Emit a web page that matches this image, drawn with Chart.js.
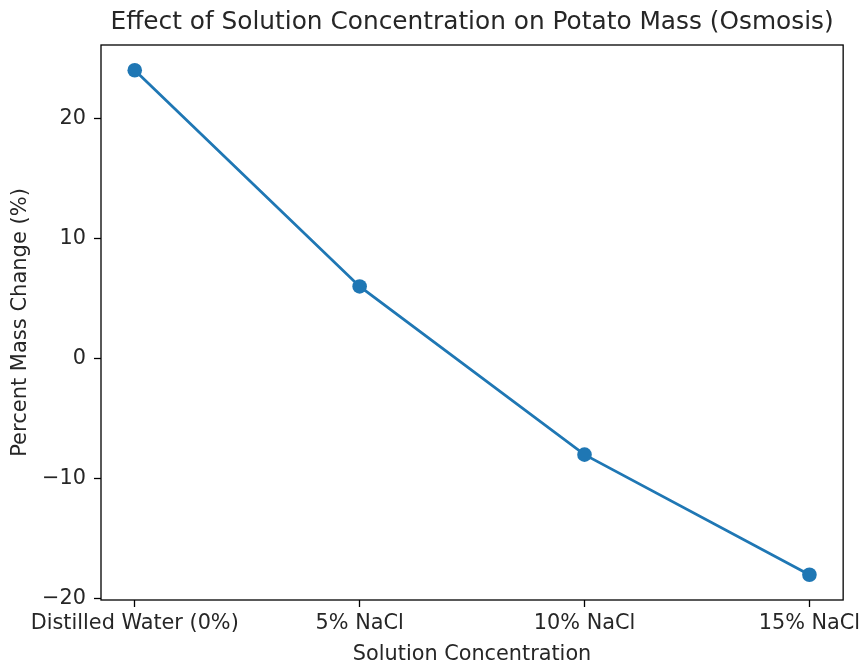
<!DOCTYPE html>
<html>
<head>
<meta charset="utf-8">
<script src="https://cdn.jsdelivr.net/npm/chart.js@4"></script>
<style>
  html, body { margin: 0; padding: 0; background: #fff; }
  #wrap { width: 865px; height: 667px; }
</style>
</head>
<body>
<div id="wrap"><canvas id="osmosisChart" width="865" height="667"></canvas></div>
<script>
// Data
const categories = ["Distilled Water (0%)", "5% NaCl", "10% NaCl", "15% NaCl"];
const massChange = [24, 6, -8, -18];
const yTicks = [-20, -10, 0, 10, 20];

const LINE_BLUE = "#1f77b4";
const FONT = "'DejaVu Sans', sans-serif";
const TEXT = "#262626";

Chart.defaults.font.family = FONT;
Chart.defaults.color = TEXT;

// Title centred over the plot area, plus a full box frame round it
const framePlugin = {
  id: "frame",
  afterDraw(chart) {
    const { ctx, chartArea: a } = chart;
    ctx.save();
    ctx.strokeStyle = "#000";
    ctx.lineWidth = 1.3;
    ctx.strokeRect(a.left, a.top, a.right - a.left, a.bottom - a.top);
    ctx.fillStyle = TEXT;
    ctx.font = "24.8px " + FONT;
    ctx.textAlign = "center";
    ctx.textBaseline = "alphabetic";
    ctx.fillText("Effect of Solution Concentration on Potato Mass (Osmosis)", (a.left + a.right) / 2, 29);
    ctx.restore();
  }
};

const ctx = document.getElementById("osmosisChart");
new Chart(ctx, {
  type: "line",
  data: {
    datasets: [{
      label: "Percent Mass Change",
      data: massChange.map((v, i) => ({ x: i, y: v })),
      borderColor: LINE_BLUE,
      backgroundColor: LINE_BLUE,
      borderWidth: 2.8,
      pointRadius: 7.3,
      pointHoverRadius: 7.3,
      pointBackgroundColor: LINE_BLUE,
      pointBorderWidth: 0,
      tension: 0,
      fill: false,
    }],
  },
  options: {
    responsive: false,
    animation: false,
    layout: { padding: { top: 45, right: 19, left: 0, bottom: 0 } },
    plugins: {
      legend: { display: false },
      title: { display: false },
      tooltip: { enabled: false },
    },
    scales: {
      x: {
        type: "linear",
        min: -0.15,
        max: 3.15,
        afterBuildTicks: (scale) => { scale.ticks = categories.map((c, i) => ({ value: i })); },
        afterFit: (scale) => { scale.height = 67; },
        ticks: {
          callback: (v) => categories[v] ?? "",
          font: { size: 20.8 },
          color: TEXT,
          padding: 4,
          maxRotation: 0,
          autoSkip: false,
        },
        grid: { display: true, drawOnChartArea: false, tickLength: 7, color: "#000", tickWidth: 1.3 },
        border: { display: false },
        title: {
          display: true,
          text: "Solution Concentration",
          font: { size: 20.8 },
          color: TEXT,
          padding: { top: 0, bottom: 0 },
        },
      },
      y: {
        min: -20.1,
        max: 26.1,
        afterBuildTicks: (scale) => { scale.ticks = yTicks.map(v => ({ value: v })); },
        afterFit: (scale) => { scale.width = 101; },
        ticks: {
          callback: (v) => String(v).replace("-", "\u2212"),
          font: { size: 20.8 },
          color: TEXT,
          padding: 8,
        },
        grid: { display: true, drawOnChartArea: false, tickLength: 7, color: "#000", tickWidth: 1.3 },
        border: { display: false },
        title: {
          display: true,
          text: "Percent Mass Change (%)",
          font: { size: 21 },
          color: TEXT,
          padding: { top: 8, bottom: 0 },
        },
      },
    },
  },
  plugins: [framePlugin],
});
</script>
</body>
</html>
